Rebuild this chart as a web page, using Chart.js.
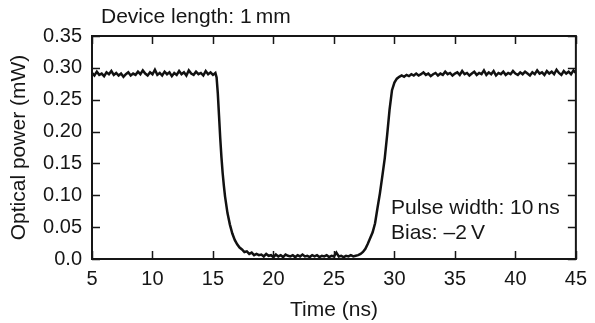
<!DOCTYPE html>
<html>
<head>
<meta charset="utf-8">
<script src="https://cdn.jsdelivr.net/npm/chart.js@4.4.1/dist/chart.umd.min.js"></script>
<style>
  body { margin: 0; background: #fff; }
  #wrap { width: 595px; height: 323px; }
</style>
</head>
<body>
<div id="wrap"><canvas id="pulseChart" width="595" height="323"></canvas></div>
<script>
const timeNs = [
  5.0, 5.2, 5.4, 5.6, 5.8, 6.0, 6.2, 6.4, 6.6, 6.8, 7.0, 7.2, 7.4, 7.6, 7.8, 8.0, 8.2, 8.4, 8.6, 8.8,
  9.0, 9.2, 9.4, 9.6, 9.8, 10.0, 10.2, 10.4, 10.6, 10.8, 11.0, 11.2, 11.4, 11.6, 11.8, 12.0, 12.2, 12.4, 12.6, 12.8,
  13.0, 13.2, 13.4, 13.6, 13.8, 14.0, 14.2, 14.4, 14.6, 14.8, 15.0, 15.2,
  15.3, 15.4, 15.5, 15.6, 15.7, 15.8, 15.9, 16.0, 16.2, 16.4, 16.6, 16.8, 17.0, 17.2, 17.4, 17.6, 17.8, 18.0,
  18.2, 18.4, 18.6, 18.8,
  19.0, 19.2, 19.4, 19.6, 19.8, 20.0, 20.2, 20.4, 20.6, 20.8, 21.0, 21.2, 21.4, 21.6, 21.8, 22.0, 22.2, 22.4, 22.6, 22.8,
  23.0, 23.2, 23.4, 23.6, 23.8, 24.0, 24.2, 24.4, 24.6, 24.8, 25.0, 25.2, 25.4, 25.6, 25.8, 26.0, 26.2, 26.4, 26.6, 26.8,
  27.0, 27.2, 27.4, 27.6, 27.8, 28.0, 28.2, 28.4, 28.6, 28.8, 29.0, 29.2, 29.4, 29.6, 29.8, 30.0, 30.2, 30.4,
  30.6, 30.8, 31.0, 31.2, 31.4, 31.6, 31.8, 32.0, 32.2, 32.4, 32.6, 32.8, 33.0, 33.2, 33.4, 33.6, 33.8, 34.0, 34.2, 34.4,
  34.6, 34.8, 35.0, 35.2, 35.4, 35.6, 35.8, 36.0, 36.2, 36.4, 36.6, 36.8, 37.0, 37.2, 37.4, 37.6, 37.8, 38.0, 38.2, 38.4,
  38.6, 38.8, 39.0, 39.2, 39.4, 39.6, 39.8, 40.0, 40.2, 40.4, 40.6, 40.8, 41.0, 41.2, 41.4, 41.6, 41.8, 42.0, 42.2, 42.4,
  42.6, 42.8, 43.0, 43.2, 43.4, 43.6, 43.8, 44.0, 44.2, 44.4, 44.6, 44.8, 45.0
];
const powerMw = [
  .292, .288, .294, .289, .291, .287, .293, .290, .295, .289, .292, .288, .291, .286, .290, .293, .288, .291, .289, .294,
  .290, .296, .291, .288, .293, .290, .297, .289, .292, .288, .294, .290, .293, .287, .292, .289, .295, .290, .293, .288,
  .296, .291, .289, .294, .290, .292, .288, .295, .290, .293, .289, .292,
  .285, .260, .225, .190, .160, .135, .115, .098, .072, .054, .040, .030, .023, .018, .015, .011, .012, .008,
  .010, .006, .008, .006,
  .007, .004, .008, .005, .006, .003, .007, .004, .006, .003, .007, .005, .004, .006, .003, .006, .004, .007, .004, .005,
  .003, .006, .004, .006, .003, .005, .004, .006, .003, .005, .004, .010, .004, .005, .003, .005, .004, .006, .004, .005,
  .006, .008, .011, .016, .024, .033, .042, .056, .080, .103, .130, .158, .195, .235, .265, .277, .283, .286,
  .288, .286, .289, .287, .290, .288, .291, .288, .290, .293, .289, .291, .287, .290, .292, .288, .291, .289, .294, .290,
  .292, .288, .291, .293, .289, .295, .290, .292, .288, .291, .294, .289, .292, .290, .296, .289, .293, .290, .295, .288,
  .292, .290, .294, .289, .292, .290, .295, .291, .289, .293, .290, .294, .291, .288, .293, .290, .296, .291, .293, .289,
  .295, .291, .294, .290, .297, .292, .289, .295, .291, .294, .290, .296, .292
];
const xTicks = [5, 10, 15, 20, 25, 30, 35, 40, 45];
const yTicks = [0, 0.05, 0.10, 0.15, 0.20, 0.25, 0.30, 0.35];
const yTickLabels = ['0.0', '0.05', '0.10', '0.15', '0.20', '0.25', '0.30', '0.35'];

const INK = '#161616';
const FONT = "'Liberation Sans', Arial, sans-serif";
Chart.defaults.font.family = FONT;
Chart.defaults.color = INK;

// box round the plot with inward ticks on all four sides
const frameTicks = {
  id: 'frameTicks',
  afterDatasetsDraw(chart) {
    const { ctx, chartArea: a, scales: { x, y } } = chart;
    const len = 8;
    ctx.save();
    ctx.strokeStyle = INK;
    ctx.lineWidth = 2;
    ctx.strokeRect(a.left, a.top, a.right - a.left, a.bottom - a.top);
    ctx.lineWidth = 1.5;
    ctx.beginPath();
    xTicks.forEach(v => {
      const px = Math.round(x.getPixelForValue(v)) + 0.5;
      ctx.moveTo(px, a.bottom); ctx.lineTo(px, a.bottom - len);
      ctx.moveTo(px, a.top);    ctx.lineTo(px, a.top + len);
    });
    yTicks.forEach(v => {
      const py = Math.round(y.getPixelForValue(v)) + 0.5;
      ctx.moveTo(a.left, py);  ctx.lineTo(a.left + len, py);
      ctx.moveTo(a.right, py); ctx.lineTo(a.right - len, py);
    });
    ctx.stroke();
    ctx.restore();
  }
};

// text written inside / above the plot
const notes = {
  id: 'notes',
  afterDraw(chart) {
    const { ctx } = chart;
    ctx.save();
    ctx.fillStyle = INK;
    ctx.font = '21px ' + FONT;
    ctx.textBaseline = 'middle';
    ctx.textAlign = 'left';
    ctx.fillText('Device length: 1\u2009mm', 101, 17);
    ctx.fillText('Pulse width: 10\u2009ns', 391, 208);
    ctx.fillText('Bias: \u20132\u2009V', 391, 233);
    ctx.restore();
  }
};

new Chart(document.getElementById('pulseChart'), {
  type: 'line',
  data: {
    datasets: [{
      data: timeNs.map((t, i) => ({ x: t, y: powerMw[i] })),
      borderColor: '#111',
      borderWidth: 2.5,
      pointRadius: 0,
      tension: 0
    }]
  },
  options: {
    responsive: false,
    animation: false,
    layout: { padding: { top: 36, right: 17, left: 0, bottom: 0 } },
    plugins: { legend: { display: false }, tooltip: { enabled: false } },
    scales: {
      x: {
        type: 'linear',
        min: 5, max: 45,
        afterBuildTicks: s => { s.ticks = xTicks.map(v => ({ value: v })); },
        afterFit: s => { s.height = 64; },
        grid: { display: false, drawTicks: false },
        border: { display: false },
        ticks: { font: { size: 20 }, color: INK, padding: 8, maxRotation: 0 },
        title: { display: true, text: 'Time (ns)', font: { size: 21 }, color: INK, padding: { top: 0, bottom: 0 } }
      },
      y: {
        min: 0, max: 0.35,
        afterBuildTicks: s => { s.ticks = yTicks.map(v => ({ value: v })); },
        afterFit: s => { s.width = 92; },
        grid: { display: false, drawTicks: false },
        border: { display: false },
        ticks: {
          font: { size: 20 }, color: INK, padding: 10,
          callback: (v, i) => yTickLabels[i]
        },
        title: { display: true, text: 'Optical power (mW)', font: { size: 21 }, color: INK, padding: { top: 7, bottom: 0 } }
      }
    }
  },
  plugins: [frameTicks, notes]
});
</script>
</body>
</html>
